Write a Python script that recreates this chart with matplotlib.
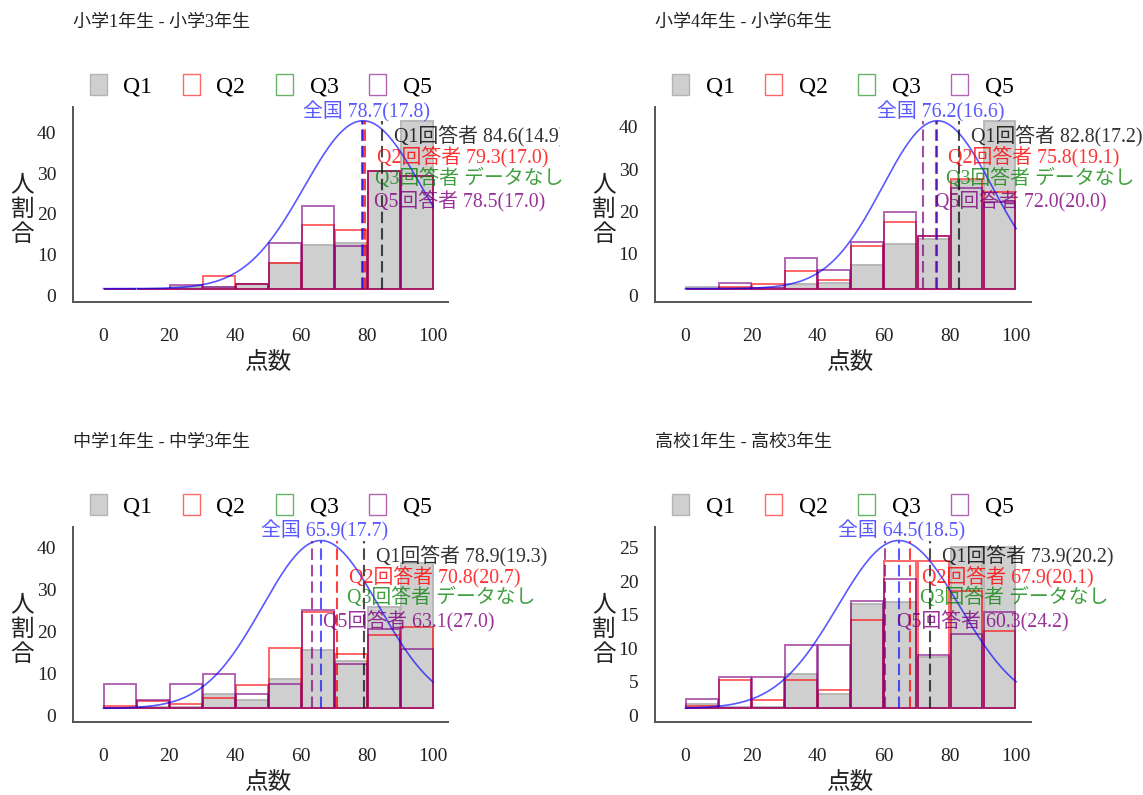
import numpy as np
import matplotlib
matplotlib.use("Agg")
import matplotlib.pyplot as plt
from matplotlib.patches import Patch
from matplotlib.transforms import ScaledTranslation, Bbox, TransformedBbox, blended_transform_factory

plt.rcParams['font.family'] = ['Liberation Serif', 'Noto Sans CJK JP']

# data (percent of answers per 10-point bin)
titles = ["小学1年生 - 小学3年生", "小学4年生 - 小学6年生",
          "中学1年生 - 中学3年生", "高校1年生 - 高校3年生"]
bin_left = [0, 10, 20, 30, 40, 50, 60, 70, 80, 90]

q1_pct = [
    [0, 0, 0.3, 0.3, 1.1, 6.2, 10.7, 11.1, 28.7, 41.0],
    [0.3, 0.2, 0.2, 1.0, 1.4, 5.6, 10.7, 11.7, 25.5, 39.8],
    [0, 0.3, 0.3, 3.4, 2.1, 7.0, 14.0, 11.3, 24.2, 34.5],
    [0.7, 0.25, 0.2, 5.2, 2.1, 15.6, 15.9, 7.7, 24.1, 24.1],
]
q2_pct = [
    [0, 0, 0, 3.0, 1.2, 6.4, 15.5, 14.4, 28.7, 27.5],
    [0, 0.3, 1.0, 4.2, 2.0, 10.0, 15.8, 12.5, 26.0, 23.0],
    [0.5, 1.8, 1.0, 2.4, 5.6, 14.3, 22.8, 12.9, 17.5, 19.3],
    [0.3, 4.2, 1.3, 4.3, 2.8, 13.1, 22.0, 22.0, 17.5, 11.5],
]
# Q3: no data (データなし)
q5_pct = [
    [0, 0, 1.0, 0.4, 1.1, 11.3, 20.3, 10.4, 28.7, 27.5],
    [0, 1.4, 0.2, 7.3, 4.5, 11.1, 18.1, 12.4, 23.9, 20.5],
    [5.7, 2.1, 5.7, 8.1, 3.4, 5.8, 23.5, 10.6, 18.8, 14.1],
    [1.4, 4.7, 4.7, 9.5, 9.5, 16.0, 19.2, 7.9, 11.1, 14.4],
]

nat_mean = [78.7, 76.2, 65.9, 64.5]
nat_sd = [17.8, 16.6, 17.7, 18.5]
q1_mean = [84.6, 82.8, 78.9, 73.9]
q1_sd = [14.9, 17.2, 19.3, 20.2]
q2_mean = [79.3, 75.8, 70.8, 67.9]
q2_sd = [17.0, 19.1, 20.7, 20.1]
q5_mean = [78.5, 72.0, 63.1, 60.3]
q5_sd = [17.0, 20.0, 27.0, 24.2]
curve_peak = [41.1, 39.8, 39.9, 25.0]   # height of the national normal curve
y_ticks = [[0, 10, 20, 30, 40], [0, 10, 20, 30, 40], [0, 10, 20, 30, 40],
           [0, 5, 10, 15, 20, 25]]
x_ticks = [0, 20, 40, 60, 80, 100]

# colours
c_q1_face = '#cfcfcf'
c_q1_edge = '#b4b4b4'
c_q2 = (1, 0, 0, 0.6)
c_q3 = (0, 0.5, 0, 0.6)
c_q5 = (0.5, 0, 0.5, 0.6)
c_nat = (0, 0, 1, 0.65)

fig = plt.figure(figsize=(11.43, 7.95), dpi=100)
ax_rects = [[0.064, 0.620, 0.328, 0.245], [0.573, 0.620, 0.329, 0.245],
            [0.064, 0.092, 0.328, 0.245], [0.573, 0.092, 0.329, 0.245]]

centers = np.array(bin_left) + 5
xs = np.linspace(0, 100, 301)

for i in range(4):
    ax = fig.add_axes(ax_rects[i])
    peak = curve_peak[i]

    ax.bar(centers, q1_pct[i], width=9.6, color=c_q1_face, edgecolor=c_q1_edge, linewidth=1.3)
    ax.bar(centers, q2_pct[i], width=9.6, fill=False, edgecolor=c_q2, linewidth=1.4)
    ax.bar(centers, q5_pct[i], width=9.6, fill=False, edgecolor=c_q5, linewidth=1.4)

    # national normal curve
    ys = peak * np.exp(-0.5 * ((xs - nat_mean[i]) / nat_sd[i]) ** 2)
    ax.plot(xs, ys, color=c_nat, lw=1.2)

    # mean lines
    dash = (0, (5.5, 2.4))
    ax.vlines(q1_mean[i], 0, peak, colors=(0, 0, 0, 0.7), linestyles=dash, lw=1.5)
    ax.vlines(q2_mean[i], 0, peak, colors=(1, 0, 0, 0.75), linestyles=dash, lw=1.5)
    ax.vlines(q5_mean[i], 0, peak, colors=(0.5, 0, 0.5, 0.7), linestyles=dash, lw=1.5)
    ax.vlines(nat_mean[i], 0, peak, colors=c_nat, linestyles=dash, lw=1.5)

    # annotations
    fs = 14.3
    ax.text(nat_mean[i] + 1, peak * 1.055, f"全国 {nat_mean[i]}({nat_sd[i]})",
            color=c_nat, ha='center', va='center', fontsize=fs)
    t1 = ax.text(q1_mean[i] + 3.6, peak * 0.912, f"Q1回答者 {q1_mean[i]}({q1_sd[i]})",
                 color=(0, 0, 0, 0.8), ha='left', va='center', fontsize=fs)
    ax.text(q2_mean[i] + 3.6, peak * 0.787, f"Q2回答者 {q2_mean[i]}({q2_sd[i]})",
            color=(1, 0, 0, 0.8), ha='left', va='center', fontsize=fs)
    ax.text(q2_mean[i] + 3.0, peak * 0.655, "Q3回答者 データなし",
            color=(0, 0.5, 0, 0.75), ha='left', va='center', fontsize=fs)
    ax.text(q5_mean[i] + 3.6, peak * 0.525, f"Q5回答者 {q5_mean[i]}({q5_sd[i]})",
            color=(0.5, 0, 0.5, 0.8), ha='left', va='center', fontsize=fs)
    if i % 2 == 0:
        # the left panels are cut at the middle of the figure
        t1.set_clip_path(None)
        t1.set_clip_box(TransformedBbox(Bbox([[0, 0], [0.49, 1]]), fig.transFigure))
        t1.set_clip_on(True)

    ax.set_xlim(-9.2, 104.5)
    ax.set_ylim(-0.08 * peak, 1.08 * peak)
    ax.set_xticks(x_ticks)
    ax.set_yticks(y_ticks[i])
    ax.tick_params(length=0, labelsize=14, labelcolor='#222222')
    ax.tick_params(axis='x', pad=19)
    ax.tick_params(axis='y', pad=12)
    for lab in ax.get_yticklabels():
        lab.set_transform(lab.get_transform() + ScaledTranslation(0, -0.07, fig.dpi_scale_trans))
    for s in ['top', 'right']:
        ax.spines[s].set_visible(False)
    for s in ['left', 'bottom']:
        ax.spines[s].set_color('#555555')
        ax.spines[s].set_linewidth(1.4)

    ax.text(50, -0.31, "点数", transform=blended_transform_factory(ax.transData, ax.transAxes),
            ha='center', va='center', fontsize=17, color='#222222')
    ax.text(-0.136, 0.47, "人\n割\n合", transform=ax.transAxes, ha='center', va='center',
            fontsize=17, linespacing=1.2, color='#222222')
    ax.text(0, 1.435, titles[i], transform=ax.transAxes, ha='left', va='center',
            fontsize=13, color='#222222')

    handles = [Patch(facecolor=c_q1_face, edgecolor=c_q1_edge, label='Q1'),
               Patch(facecolor='none', edgecolor=c_q2, label='Q2'),
               Patch(facecolor='none', edgecolor=c_q3, label='Q3'),
               Patch(facecolor='none', edgecolor=c_q5, label='Q5')]
    ax.legend(handles=handles, ncol=4, loc='center', bbox_to_anchor=(0.5, 1.11),
              frameon=False, fontsize=17, handlelength=0.72, handleheight=1.0,
              handletextpad=0.7, columnspacing=1.3, borderpad=0.2)

fig.savefig("out.png", dpi=100)
